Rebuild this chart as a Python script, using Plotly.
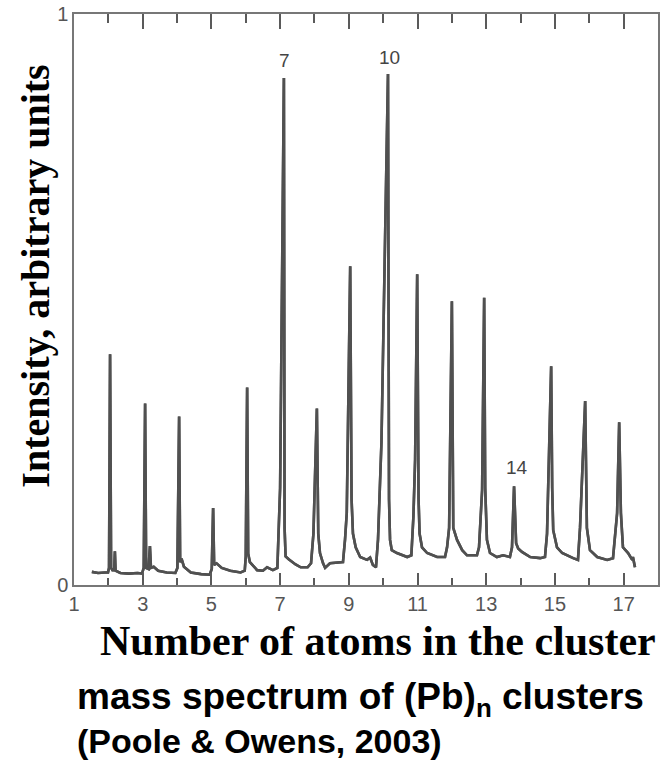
import plotly.graph_objects as go

# Mass spectrum trace: cluster size vs intensity
spectrum_x = [
    1.52, 1.70, 1.90, 1.99, 2.02, 2.05, 2.08, 2.12, 2.17, 2.19, 2.21, 2.35, 2.60, 2.85,
    2.98, 3.03, 3.07, 3.10, 3.17, 3.21, 3.24, 3.32, 3.45, 3.70, 3.95,
    4.01, 4.06, 4.09, 4.13, 4.20, 4.40, 4.70, 4.95,
    5.01, 5.05, 5.08, 5.15, 5.30, 5.55, 5.85, 5.97,
    6.00, 6.04, 6.07, 6.12, 6.33, 6.50, 6.62, 6.79, 6.92,
    6.96, 7.00, 7.11, 7.13, 7.16, 7.25, 7.45, 7.60, 7.80, 7.90,
    7.97, 8.07, 8.11, 8.16, 8.25, 8.31, 8.45, 8.70, 8.83,
    8.89, 8.94, 9.04, 9.08, 9.12, 9.20, 9.33, 9.53, 9.62, 9.70, 9.79,
    9.85, 9.95, 10.14, 10.17, 10.20, 10.25, 10.40, 10.70, 10.82,
    10.88, 10.93, 10.99, 11.03, 11.06, 11.13, 11.28, 11.57, 11.80,
    11.86, 11.92, 12.00, 12.04, 12.15, 12.30, 12.44, 12.73,
    12.79, 12.88, 12.94, 12.97, 13.02, 13.11, 13.31, 13.49, 13.69,
    13.75, 13.81, 13.87, 13.93, 14.04, 14.28, 14.57, 14.71,
    14.77, 14.80, 14.89, 14.92, 14.95, 15.06, 15.21, 15.53, 15.67,
    15.73, 15.88, 15.93, 16.02, 16.23, 16.52, 16.69,
    16.75, 16.81, 16.87, 16.92, 16.98, 17.13, 17.25, 17.27, 17.33,
]
spectrum_y = [
    0.023, 0.021, 0.022, 0.022, 0.030, 0.404, 0.030, 0.026, 0.026, 0.059, 0.025, 0.021, 0.020, 0.021,
    0.020, 0.030, 0.318, 0.030, 0.028, 0.068, 0.030, 0.032, 0.025, 0.022, 0.021,
    0.030, 0.295, 0.040, 0.046, 0.032, 0.022, 0.019, 0.018,
    0.028, 0.135, 0.035, 0.038, 0.030, 0.025, 0.022, 0.025,
    0.050, 0.346, 0.055, 0.040, 0.026, 0.025, 0.031, 0.026, 0.030,
    0.100, 0.170, 0.888, 0.100, 0.050, 0.045, 0.036, 0.031, 0.031, 0.038,
    0.090, 0.309, 0.090, 0.056, 0.038, 0.030, 0.038, 0.040, 0.040,
    0.080, 0.126, 0.558, 0.150, 0.090, 0.066, 0.049, 0.044, 0.048, 0.035, 0.031,
    0.080, 0.250, 0.895, 0.150, 0.079, 0.061, 0.056, 0.049, 0.052,
    0.120, 0.220, 0.544, 0.150, 0.090, 0.066, 0.056, 0.049, 0.049,
    0.066, 0.100, 0.497, 0.100, 0.079, 0.061, 0.052, 0.052,
    0.066, 0.166, 0.503, 0.170, 0.079, 0.056, 0.049, 0.052, 0.049,
    0.066, 0.173, 0.073, 0.064, 0.058, 0.049, 0.047, 0.049,
    0.090, 0.170, 0.383, 0.170, 0.096, 0.066, 0.056, 0.047, 0.044,
    0.100, 0.322, 0.100, 0.061, 0.049, 0.044, 0.047,
    0.090, 0.126, 0.285, 0.126, 0.066, 0.056, 0.044, 0.049, 0.031,
]

# Peak labels
label_text = ["7", "10", "14"]
label_x = [7.14, 10.17, 13.90]
label_y = [0.918, 0.923, 0.206]

# Axis ticks
x_tickvals = [1, 3, 5, 7, 9, 11, 13, 15, 17]
y_tickvals = [0, 1]
y_ticktext = ["0", "1"]

W, H = 662, 764
L, R, T, B = 74, 2, 13, 179
plot_w = W - L - R
plot_h = H - T - B


def px_to_paper_x(px):
    return (px - L) / plot_w


def px_to_paper_y(py):
    return (H - B - py) / plot_h


fig = go.Figure()
fig.add_trace(go.Scatter(
    x=spectrum_x, y=spectrum_y, mode="lines",
    line=dict(color="#505050", width=2.6),
    hoverinfo="skip", showlegend=False,
))
fig.add_trace(go.Scatter(
    x=spectrum_x, y=spectrum_y, xaxis="x2", mode="lines",
    line=dict(color="#505050", width=2.6),
    hoverinfo="skip", showlegend=False,
))

for t, xx, yy in zip(label_text, label_x, label_y):
    fig.add_annotation(x=xx, y=yy, xref="x", yref="y", text=t, showarrow=False,
                       font=dict(family="Liberation Sans, Arial", size=19, color="#444444"),
                       xanchor="center", yanchor="middle")

# Axis titles and caption
fig.add_annotation(x=px_to_paper_x(35), y=px_to_paper_y(276), xref="paper", yref="paper",
                   text="<b>Intensity, arbitrary units</b>", textangle=-90, showarrow=False,
                   font=dict(family="Liberation Serif, Times New Roman", size=40, color="#000000"),
                   xanchor="center", yanchor="middle")
fig.add_annotation(x=px_to_paper_x(379), y=px_to_paper_y(641), xref="paper", yref="paper",
                   text="<b>Number of atoms in the cluster</b>", showarrow=False,
                   font=dict(family="Liberation Serif, Times New Roman", size=42, color="#000000"),
                   xanchor="center", yanchor="middle")
fig.add_annotation(x=px_to_paper_x(75), y=px_to_paper_y(699), xref="paper", yref="paper",
                   text="<b>mass spectrum of (Pb)<sub>n</sub> clusters</b>", showarrow=False,
                   font=dict(family="Liberation Sans, Arial", size=37, color="#000000"),
                   xanchor="left", yanchor="middle")
fig.add_annotation(x=px_to_paper_x(75), y=px_to_paper_y(741), xref="paper", yref="paper",
                   text="<b>(Poole &amp; Owens, 2003)</b>", showarrow=False,
                   font=dict(family="Liberation Sans, Arial", size=34, color="#000000"),
                   xanchor="left", yanchor="middle")

tick_font = dict(family="Liberation Sans, Arial", size=20, color="#555555")
tick_col = "#5a5a5a"

fig.update_layout(
    width=W, height=H,
    margin=dict(l=L, r=R, t=T, b=B, pad=0),
    paper_bgcolor="white", plot_bgcolor="white", showlegend=False,
    xaxis=dict(
        range=[1, 18], tickmode="array", tickvals=x_tickvals,
        ticks="inside", ticklen=12, tickwidth=2, tickcolor=tick_col,
        minor=dict(dtick=1, tick0=1, ticks="inside", ticklen=7, tickwidth=2, tickcolor=tick_col,
                   showgrid=False),
        showline=True, linecolor="#777777", linewidth=1.5, mirror="allticks",
        gridcolor="white", tickfont=tick_font,
    ),
    xaxis2=dict(
        range=[1, 18], overlaying="x", side="top", anchor="y",
        tickmode="array", tickvals=x_tickvals, showticklabels=True,
        tickfont=dict(size=8, color="rgba(0,0,0,0)"),
        ticks="inside", ticklen=15, tickwidth=2, tickcolor=tick_col,
        minor=dict(dtick=1, tick0=1, ticks="inside", ticklen=9, tickwidth=2, tickcolor=tick_col,
                   showgrid=False),
        gridcolor="white", showgrid=False,
    ),
    yaxis=dict(
        range=[0, 1], tickmode="array", tickvals=y_tickvals, ticktext=y_ticktext,
        showline=True, linecolor="#777777", linewidth=1.5, mirror=True,
        gridcolor="white", showgrid=False, zeroline=False, tickfont=tick_font,
    ),
)

fig.write_html("out.html")
